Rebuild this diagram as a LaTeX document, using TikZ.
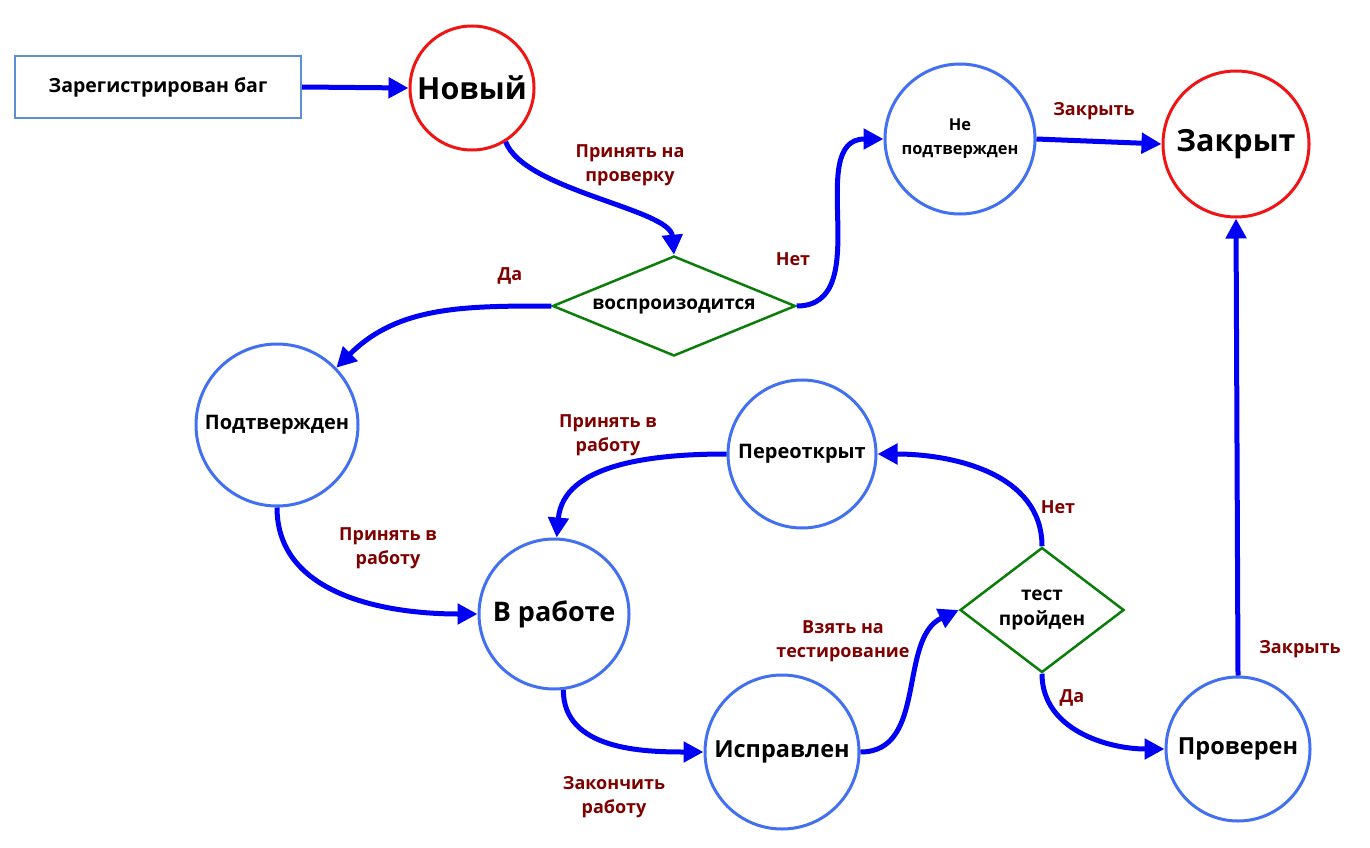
\documentclass[tikz,border=0pt]{standalone}
\usepackage{fontspec}
\setmainfont{Open Sans}
\usetikzlibrary{arrows.meta,shapes.geometric}
\definecolor{cblue}{RGB}{66,112,240}
\definecolor{bxblue}{RGB}{91,143,214}
\definecolor{cred}{RGB}{240,20,20}
\definecolor{cgreen}{RGB}{10,125,10}
\definecolor{lblred}{RGB}{128,0,0}
\definecolor{arrblue}{RGB}{0,0,245}
\tikzset{
  st/.style={circle,draw=cblue,line width=3pt,inner sep=0pt,align=center,font=\bfseries},
  stred/.style={circle,draw=cred,line width=3pt,inner sep=0pt,align=center,font=\bfseries},
  dec/.style={diamond,draw=cgreen,line width=2.5pt,inner sep=0pt,align=center,font=\bfseries},
  conn/.style={draw=arrblue,line width=5pt,-{Triangle[length=20pt,width=20pt]}},
  lbl/.style={text=lblred,align=center,font=\fontsize{18}{24}\selectfont\bfseries}
}
\begin{document}
\begin{tikzpicture}[x=1pt,y=-1pt]
\useasboundingbox (0,0) rectangle (1370,848);
% nodes
\node[draw=bxblue,line width=2pt,minimum width=286pt,minimum height=62pt,inner sep=0pt,font=\fontsize{19.5}{22}\selectfont\bfseries] (reg) at (158,87) {Зарегистрирован баг};
\node[stred,minimum size=124pt,font=\fontsize{30.5}{34}\selectfont\bfseries] (new) at (472,88) {Новый};
\node[dec,shape aspect=2.43,minimum width=243pt,minimum height=100pt,font=\fontsize{19}{22}\selectfont\bfseries] (d1) at (674,306) {воспроизодится};
\node[st,minimum size=150pt,font=\fontsize{16.4}{24}\selectfont\bfseries] (nc) at (960,139) {Не\\подтвержден};
\node[stred,minimum size=146pt,font=\fontsize{30.5}{34}\selectfont\bfseries] (closed) at (1236,144) {Закрыт};
\node[st,minimum size=162pt,font=\fontsize{20}{24}\selectfont\bfseries] (conf) at (277,425) {Подтвержден};
\node[st,minimum size=150pt,font=\fontsize{27}{30}\selectfont\bfseries] (work) at (554,614) {В работе};
\node[st,minimum size=148pt,font=\fontsize{20}{24}\selectfont\bfseries] (reop) at (802,454) {Переоткрыт};
\node[st,minimum size=154pt,font=\fontsize{23.5}{26}\selectfont\bfseries] (fixed) at (782,752) {Исправлен};
\node[dec,shape aspect=1.31,minimum width=164pt,minimum height=125pt,font=\fontsize{19}{25}\selectfont\bfseries] (d2) at (1042,610) {тест\\пройден};
\node[st,minimum size=144pt,font=\fontsize{23.5}{26}\selectfont\bfseries] (ver) at (1238,749) {Проверен};
% labels
\node[lbl] (l1) at (630,165) {Принять на\\проверку};
\node[lbl] (l2) at (793,259) {Нет};
\node[lbl] (l3) at (1094,111) {Закрыть};
\node[lbl] (l4) at (510,276) {Да};
\node[lbl] (l5) at (388,548) {Принять в\\работу};
\node[lbl] (l6) at (608,435) {Принять в\\работу};
\node[lbl] (l7) at (614,797) {Закончить\\работу};
\node[lbl] (l8) at (843,641) {Взять на\\тестирование};
\node[lbl] (l9) at (1058,507) {Нет};
\node[lbl] (l10) at (1072,698) {Да};
\node[lbl] (l11) at (1300,649) {Закрыть};
% connectors
\draw[conn] (reg.east) -- (new.west);
\draw[conn] (new.-58) to[out=-69,in=95,out distance=52pt,in distance=46pt] (d1.north);
\draw[conn] (d1.east) to[out=0,in=180,looseness=1.1] (nc.west);
\draw[conn] (nc.east) -- (closed.west);
\draw[conn] (d1.west) to[out=180,in=45] (conf.44);
\draw[conn] (conf.south) to[out=-90,in=180] (work.west);
\draw[conn] (reop.west) to[out=180,in=85] (work.88);
\draw[conn] (work.-83) to[out=-90,in=180] (fixed.west);
\draw[conn] (fixed.east) to[out=0,in=205] (d2.west);
\draw[conn] (d2.north) to[out=90,in=0] (reop.east);
\draw[conn] (d2.south) to[out=-90,in=180] (ver.west);
\draw[conn] (ver.north) -- (closed.south);
\end{tikzpicture}
\end{document}
